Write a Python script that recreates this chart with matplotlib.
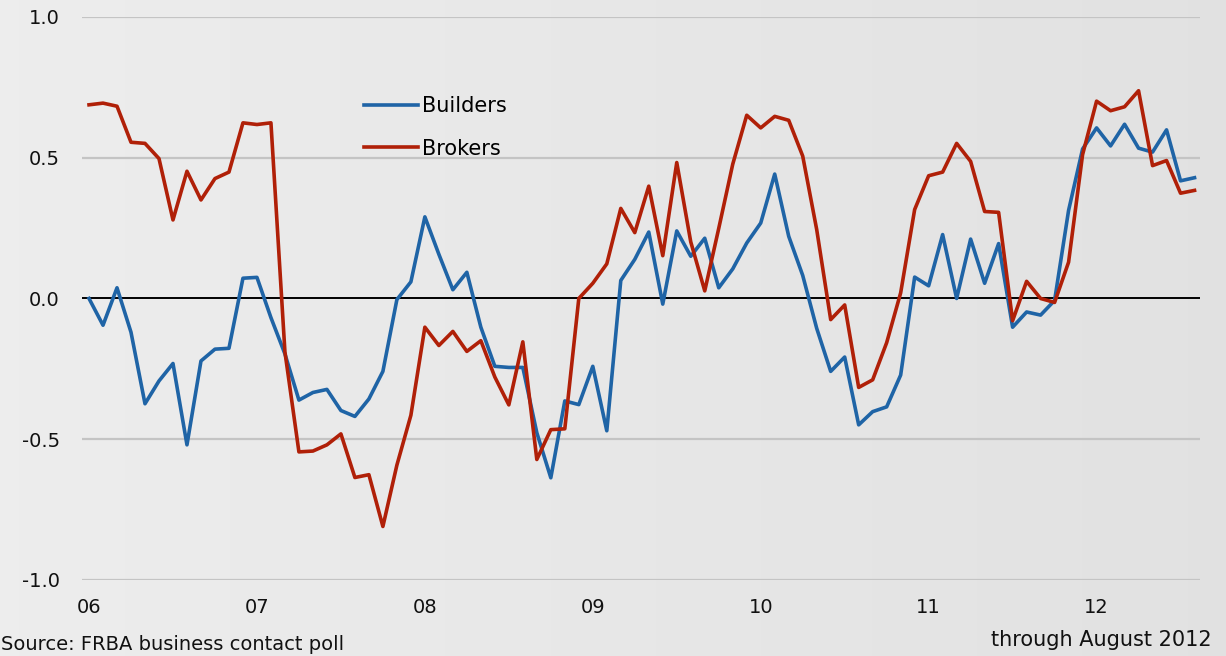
import numpy as np
import matplotlib
matplotlib.use("Agg")
import matplotlib.pyplot as plt

# monthly readings, Jan 2006 .. Aug 2012
builders = [0.00, -0.095, 0.038, -0.12, -0.374, -0.293, -0.231, -0.52, -0.222, -0.18,
            -0.177, 0.072, 0.075, -0.068, -0.197, -0.361, -0.334, -0.323, -0.398, -0.419,
            -0.357, -0.259, -0.004, 0.059, 0.29, 0.157, 0.031, 0.093, -0.102, -0.241,
            -0.245, -0.245, -0.477, -0.637, -0.364, -0.377, -0.241, -0.47, 0.064, 0.139,
            0.236, -0.02, 0.24, 0.15, 0.214, 0.038, 0.105, 0.197, 0.268, 0.442,
            0.221, 0.082, -0.106, -0.259, -0.208, -0.449, -0.402, -0.385, -0.272, 0.076,
            0.045, 0.227, 0.0, 0.211, 0.054, 0.195, -0.102, -0.048, -0.059, -0.007,
            0.313, 0.531, 0.606, 0.542, 0.619, 0.534, 0.52, 0.599, 0.418, 0.429]

brokers = [0.688, 0.694, 0.683, 0.555, 0.551, 0.497, 0.279, 0.452, 0.35, 0.426,
           0.449, 0.624, 0.618, 0.624, -0.19, -0.545, -0.542, -0.52, -0.481, -0.636,
           -0.626, -0.81, -0.592, -0.415, -0.102, -0.167, -0.117, -0.188, -0.15, -0.279,
           -0.378, -0.154, -0.572, -0.466, -0.463, 0.0, 0.054, 0.123, 0.32, 0.234,
           0.399, 0.152, 0.483, 0.201, 0.027, 0.249, 0.477, 0.651, 0.606, 0.647,
           0.633, 0.506, 0.245, -0.075, -0.023, -0.316, -0.289, -0.157, 0.02, 0.316,
           0.436, 0.449, 0.551, 0.487, 0.309, 0.306, -0.079, 0.061, 0.0, -0.014,
           0.129, 0.511, 0.701, 0.667, 0.681, 0.738, 0.472, 0.49, 0.374, 0.384]

year_labels = ["06", "07", "08", "09", "10", "11", "12"]
y_ticks = [-1.0, -0.5, 0.0, 0.5, 1.0]

months = np.arange(len(builders))

fig = plt.figure(figsize=(12.26, 6.56), dpi=100)

# soft grey background with a faint left-to-right gradient
bg = fig.add_axes([0, 0, 1, 1], zorder=-10)
grad = np.linspace(0.93, 0.885, 256).reshape(1, -1)
bg.imshow(np.dstack([grad] * 3), aspect="auto", extent=[0, 1, 0, 1])
bg.set_xlim(0, 1)
bg.set_ylim(0, 1)
bg.axis("off")

ax = fig.add_axes([0.0669, 0.1159, 0.912, 0.8582])
ax.patch.set_alpha(0)

ax.plot(months, builders, color="#1f64a6", lw=2.6, label="Builders", zorder=3)
ax.plot(months, brokers, color="#b02008", lw=2.6, label="Brokers", zorder=3)

ax.set_ylim(-1, 1)
ax.set_xlim(-0.5, 79.4)
ax.set_yticks(y_ticks)
ax.set_yticklabels([f"{v:.1f}" for v in y_ticks])
ax.set_xticks(np.arange(len(year_labels)) * 12)
ax.set_xticklabels(year_labels)

for v in y_ticks:
    if v == 0:
        ax.axhline(v, color="black", lw=1.4, zorder=2)
    else:
        ax.axhline(v, color="#c4c4c4", lw=1.6, zorder=1)

for s in ax.spines.values():
    s.set_visible(False)
ax.tick_params(axis="both", length=0, labelsize=14, colors="#111111")
ax.tick_params(axis="y", pad=16)
ax.tick_params(axis="x", pad=13)

ax.legend(loc="upper left", bbox_to_anchor=(0.245, 0.874), frameon=False,
          fontsize=15, handlelength=2.6, handletextpad=0.15, labelspacing=1.08,
          borderaxespad=0)

fig.text(0.001, 0.003, "Source: FRBA business contact poll", fontsize=14,
         ha="left", va="bottom", color="#111111")
fig.text(0.988, 0.024, "through August 2012", fontsize=15,
         ha="right", va="center", color="#111111")

fig.savefig("out.png", dpi=100)
